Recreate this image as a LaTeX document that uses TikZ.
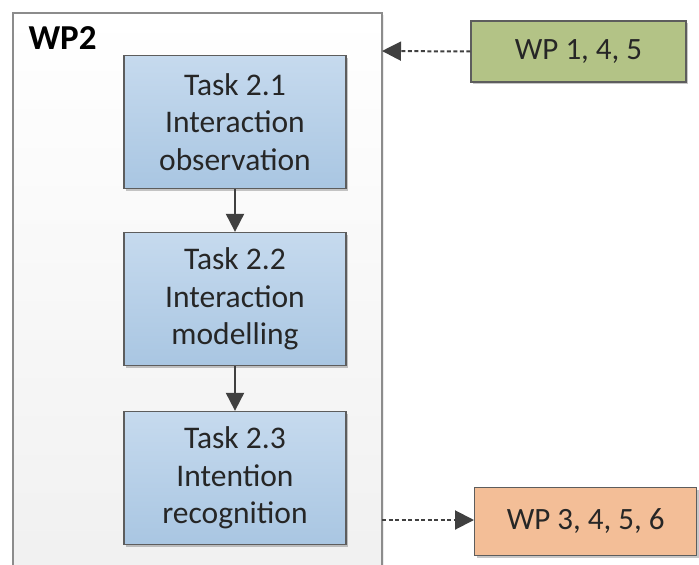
\documentclass[tikz,border=0pt]{standalone}
\usepackage{fontspec}
\setmainfont{Carlito}
\usetikzlibrary{arrows.meta,shadows}
\definecolor{txt}{HTML}{262626}
\definecolor{edge}{HTML}{404040}
\definecolor{frameline}{HTML}{8C8C8C}
\definecolor{bluetop}{HTML}{C6DAEE}
\definecolor{bluebot}{HTML}{A9C6E2}
\definecolor{greenfill}{HTML}{B3C386}
\definecolor{orangefill}{HTML}{F3BE97}
\tikzset{
  x=1pt, y=-1pt,
  boxshadow/.style={drop shadow={opacity=0.22, shadow xshift=2pt, shadow yshift=-2pt, fill=black}},
  taskbox/.style={draw=edge!85, line width=1.3pt, top color=bluetop, bottom color=bluebot,
    minimum width=222pt, minimum height=133pt, align=center, text=txt,
    font=\fontsize{31.5}{37.5}\selectfont, boxshadow},
  wpbox/.style={draw=edge!85, line width=1.3pt, text=txt,
    font=\fontsize{31}{37}\selectfont, boxshadow},
  flow/.style={draw=edge, line width=2pt, -{Triangle[length=18pt,width=18pt]}},
  link/.style={draw=edge, line width=2pt, dash pattern=on 4pt off 2.5pt,
    -{Triangle[length=19pt,width=19pt]}},
}
\begin{document}
\begin{tikzpicture}
\useasboundingbox (0,0) rectangle (699,565);
% work package frame, running off the lower edge
\fill[white] (0,0) rectangle (699,565);
\path[draw=frameline, line width=1.5pt, top color=white, bottom color=black!6,
  drop shadow={opacity=0.15, shadow xshift=2pt, shadow yshift=-2pt}]
  (13,13) rectangle (382,600);
\node[anchor=base west, text=black, font=\fontsize{35}{40}\selectfont\bfseries] (wp2) at (25,49) {WP2};
\coordinate (frameE) at (382,51);
\coordinate (frameEb) at (382,520);

% tasks
\node[taskbox] (t1) at (235,122) {Task 2.1\\Interaction\\observation};
\node[taskbox] (t2) at (235,299) {Task 2.2\\Interaction\\modelling};
\node[taskbox] (t3) at (235,478) {Task 2.3\\Intention\\recognition};

% related work packages
\node[wpbox, fill=greenfill, minimum width=215pt, minimum height=61pt] (inwp) at (578.5,51.5) {WP 1, 4, 5};
\node[wpbox, fill=orangefill, minimum width=222pt, minimum height=68pt, anchor=west] (outwp) at (474,521.5) {WP 3, 4, 5, 6};

\draw[flow] (t1.south) -- (t2.north);
\draw[flow] (t2.south) -- (t3.north);
\draw[link] (inwp.west) -- (frameE);
\draw[link] (frameEb) -- (outwp.west |- frameEb);
\end{tikzpicture}
\end{document}
